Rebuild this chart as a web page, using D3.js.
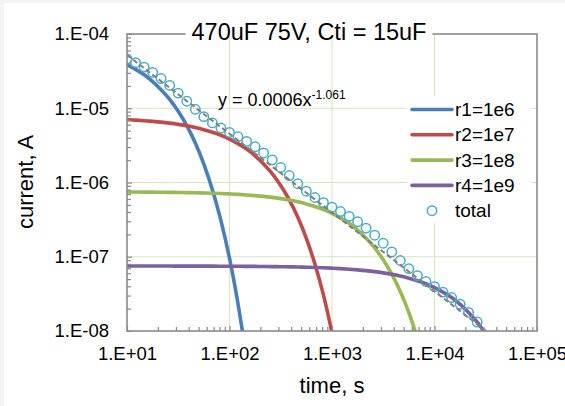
<!DOCTYPE html>
<html>
<head>
<meta charset="utf-8">
<script src="https://cdn.jsdelivr.net/npm/d3@7"></script>
<style>
  html, body { margin: 0; padding: 0; background: #f4f4f4; }
  svg { display: block; }
  text { font-family: "Liberation Sans", Arial, sans-serif; fill: #000; }
</style>
</head>
<body>
<svg id="chart" width="565" height="406"></svg>
<script>
// ---------------- data ----------------
const chartTitle = "470uF 75V, Cti = 15uF";
const xTitle = "time, s";
const yTitle = "current, A";

const times = [10, 12.1, 14.7, 17.8, 21.5, 26.1, 31.6, 38.3, 46.4, 56.2, 68.1, 82.5,
  100, 121, 147, 178, 215, 261, 316, 383, 464, 562, 681, 825,
  1000, 1210, 1470, 1780, 2150, 2610, 3160, 3830, 4640, 5620, 6810, 8250,
  10000, 12100, 14700, 17800, 21500, 26100, 31600];

const r1 = [3.85e-5, 3.34e-5, 2.82e-5, 2.29e-5, 1.78e-5, 1.32e-5, 9.11e-6, 5.83e-6, 3.40e-6,
  1.77e-6, 7.99e-7, 3.06e-7, 9.55e-8, 2.33e-8, 4.22e-9];

const r2 = [7.02e-6, 6.92e-6, 6.80e-6, 6.66e-6, 6.50e-6, 6.30e-6, 6.07e-6, 5.81e-6, 5.50e-6,
  5.15e-6, 4.76e-6, 4.33e-6, 3.85e-6, 3.34e-6, 2.82e-6, 2.29e-6, 1.78e-6, 1.32e-6, 9.11e-7,
  5.83e-7, 3.40e-7, 1.77e-7, 7.99e-8, 3.06e-8, 9.55e-9];

const r3 = [7.45e-7, 7.44e-7, 7.43e-7, 7.41e-7, 7.39e-7, 7.37e-7, 7.34e-7, 7.31e-7, 7.27e-7,
  7.22e-7, 7.17e-7, 7.10e-7, 7.02e-7, 6.92e-7, 6.80e-7, 6.66e-7, 6.50e-7, 6.30e-7, 6.07e-7,
  5.81e-7, 5.50e-7, 5.15e-7, 4.76e-7, 4.33e-7, 3.85e-7, 3.34e-7, 2.82e-7, 2.29e-7, 1.78e-7,
  1.32e-7, 9.11e-8, 5.83e-8, 3.40e-8, 1.77e-8, 7.99e-9];

const r4 = [7.50e-8, 7.49e-8, 7.49e-8, 7.49e-8, 7.49e-8, 7.49e-8, 7.48e-8, 7.48e-8, 7.48e-8,
  7.47e-8, 7.47e-8, 7.46e-8, 7.45e-8, 7.44e-8, 7.43e-8, 7.41e-8, 7.39e-8, 7.37e-8, 7.34e-8,
  7.31e-8, 7.27e-8, 7.22e-8, 7.17e-8, 7.10e-8, 7.02e-8, 6.92e-8, 6.80e-8, 6.66e-8, 6.50e-8,
  6.30e-8, 6.07e-8, 5.81e-8, 5.50e-8, 5.15e-8, 4.76e-8, 4.33e-8, 3.85e-8, 3.34e-8, 2.82e-8,
  2.29e-8, 1.78e-8, 1.32e-8, 9.11e-9];

const total = [4.63e-5, 4.11e-5, 3.58e-5, 3.04e-5, 2.51e-5, 2.03e-5, 1.60e-5, 1.245e-5, 9.70e-6,
  7.72e-6, 6.35e-6, 5.42e-6, 4.72e-6, 4.13e-6, 3.58e-6, 3.03e-6, 2.50e-6, 2.02e-6, 1.59e-6,
  1.24e-6, 9.63e-7, 7.64e-7, 6.28e-7, 5.35e-7, 4.65e-7, 4.06e-7, 3.50e-7, 2.96e-7, 2.43e-7,
  1.95e-7, 1.52e-7, 1.16e-7, 8.90e-8, 6.92e-8, 5.56e-8, 4.64e-8, 3.95e-8, 3.34e-8, 2.82e-8,
  2.29e-8, 1.78e-8, 1.32e-8];

const seriesNames = ["r1=1e6", "r2=1e7", "r3=1e8", "r4=1e9"];
const totalName = "total";

// power-law trendline shown on the chart: y = 0.0006 x^-1.061
const trendCoef = 0.0006;
const trendExp = -1.061;
const trendRange = [10, 100000];
const trendLabel = "y = 0.0006x";
const trendLabelExp = "-1.061";

const xTickValues = [1e1, 1e2, 1e3, 1e4, 1e5];
const xTickLabels = ["1.E+01", "1.E+02", "1.E+03", "1.E+04", "1.E+05"];
const yTickValues = [1e-8, 1e-7, 1e-6, 1e-5, 1e-4];
const yTickLabels = ["1.E-08", "1.E-07", "1.E-06", "1.E-05", "1.E-04"];

// ---------------- styling ----------------
const colors = ["#4a7ebb", "#be4b48", "#98b954", "#7d60a0"];
const totalColor = "#4bacc6";
const gridColor = "#d7e4bd";
const axisColor = "#8a8a8a";

const L = 127, R = 537, T = 34, B = 331;

const svg = d3.select("#chart");
svg.append("rect").attr("x", 4).attr("y", 3).attr("width", 561).attr("height", 403).attr("fill", "#fff");

const x = d3.scaleLog().domain([1e1, 1e5]).range([L, R]);
const y = d3.scaleLog().domain([1e-8, 1e-4]).range([B, T]);

svg.append("defs").append("clipPath").attr("id", "plotclip")
  .append("rect").attr("x", L).attr("y", T).attr("width", R - L).attr("height", B - T);

// gridlines
const grid = svg.append("g");
grid.selectAll(".gx").data(xTickValues.slice(1, -1)).join("line")
  .attr("x1", d => x(d)).attr("x2", d => x(d)).attr("y1", T).attr("y2", B)
  .attr("stroke", gridColor).attr("stroke-width", 1);
grid.selectAll(".gy").data(yTickValues.slice(1, -1)).join("line")
  .attr("y1", d => y(d)).attr("y2", d => y(d)).attr("x1", L).attr("x2", R)
  .attr("stroke", gridColor).attr("stroke-width", 1);

// series lines
const plot = svg.append("g").attr("clip-path", "url(#plotclip)");
const line = d3.line().x(d => x(d[0])).y(d => y(d[1])).curve(d3.curveMonotoneX);
[r1, r2, r3, r4].forEach((vals, i) => {
  const pts = vals.map((v, k) => [times[k], v]);
  plot.append("path").datum(pts).attr("d", line)
    .attr("fill", "none").attr("stroke", colors[i]).attr("stroke-width", 3.6)
    .attr("stroke-linecap", "round");
});

// total markers
plot.selectAll(".tot").data(total.map((v, k) => [times[k], v])).join("circle")
  .attr("cx", d => x(d[0])).attr("cy", d => y(d[1])).attr("r", 4.7)
  .attr("fill", "none").attr("stroke", totalColor).attr("stroke-width", 1.5);

// trendline
const trendPts = trendRange.map(t => [t, trendCoef * Math.pow(t, trendExp)]);
plot.append("path").datum(trendPts).attr("d", d3.line().x(d => x(d[0])).y(d => y(d[1])))
  .attr("fill", "none").attr("stroke", "#7f7f7f").attr("stroke-width", 2)
  .attr("stroke-dasharray", "5,3");

// minor tick values
const xMinor = [], yMinor = [];
for (let e = 1; e < 5; e++) for (let m = 2; m <= 9; m++) xMinor.push(m * Math.pow(10, e));
for (let e = -8; e < -4; e++) for (let m = 2; m <= 9; m++) yMinor.push(m * Math.pow(10, e));

// axes
const xAxis = svg.append("g").attr("transform", `translate(0,${B})`)
  .call(d3.axisBottom(x).tickValues(xTickValues).tickFormat((d, i) => xTickLabels[i])
    .tickSize(-5).tickPadding(16));
const xAxisMinor = svg.append("g").attr("transform", `translate(0,${B})`)
  .call(d3.axisBottom(x).tickValues(xMinor).tickFormat("").tickSize(-4));
const yAxis = svg.append("g").attr("transform", `translate(${L},0)`)
  .call(d3.axisLeft(y).tickValues(yTickValues).tickFormat((d, i) => yTickLabels[i])
    .tickSize(-5).tickPadding(18));
const yAxisMinor = svg.append("g").attr("transform", `translate(${L},0)`)
  .call(d3.axisLeft(y).tickValues(yMinor).tickFormat("").tickSize(-4));

[xAxis, xAxisMinor, yAxis, yAxisMinor].forEach(g => {
  g.select(".domain").remove();
  g.selectAll(".tick line").attr("stroke", axisColor).attr("stroke-width", 1.2);
  g.selectAll("text").style("font-size", "18.5px").attr("fill", "#000");
});

// plot border
svg.append("rect").attr("x", L).attr("y", T).attr("width", R - L).attr("height", B - T)
  .attr("fill", "none").attr("stroke", axisColor).attr("stroke-width", 1.6);

// title with white background over the top border
const titleG = svg.append("g");
const titleBg = titleG.append("rect").attr("fill", "#fff");
const titleText = titleG.append("text").attr("x", 309).attr("y", 40)
  .attr("text-anchor", "middle").style("font-size", "23.5px").text(chartTitle);
const tb = titleText.node().getBBox();
titleBg.attr("x", tb.x - 6).attr("y", T - 3).attr("width", tb.width + 12).attr("height", 6);

// axis titles
svg.append("text").attr("x", 332).attr("y", 393).attr("text-anchor", "middle")
  .style("font-size", "22px").text(xTitle);
svg.append("text").attr("transform", "translate(33,182) rotate(-90)")
  .attr("text-anchor", "middle").style("font-size", "22px").text(yTitle);

// trendline equation
const eq = svg.append("text").attr("x", 218).attr("y", 106).style("font-size", "18px");
eq.append("tspan").text(trendLabel);
eq.append("tspan").attr("dy", -7).style("font-size", "12px").text(trendLabelExp);

// legend
const lg = svg.append("g");
lg.append("rect").attr("x", 407).attr("y", 96).attr("width", 124).attr("height", 127).attr("fill", "#fff");
const rowY = d3.scaleLinear().domain([0, 4]).range([109.5, 210.7]);
seriesNames.forEach((name, i) => {
  lg.append("line").attr("x1", 412).attr("x2", 452).attr("y1", rowY(i)).attr("y2", rowY(i))
    .attr("stroke", colors[i]).attr("stroke-width", 3.6).attr("stroke-linecap", "round");
  lg.append("text").attr("x", 455).attr("y", rowY(i)).attr("dy", "0.35em")
    .style("font-size", "19px").text(name);
});
lg.append("circle").attr("cx", 432).attr("cy", rowY(4)).attr("r", 4.7)
  .attr("fill", "none").attr("stroke", totalColor).attr("stroke-width", 1.5);
lg.append("text").attr("x", 455).attr("y", rowY(4)).attr("dy", "0.35em")
  .style("font-size", "19px").text(totalName);
</script>
</body>
</html>
